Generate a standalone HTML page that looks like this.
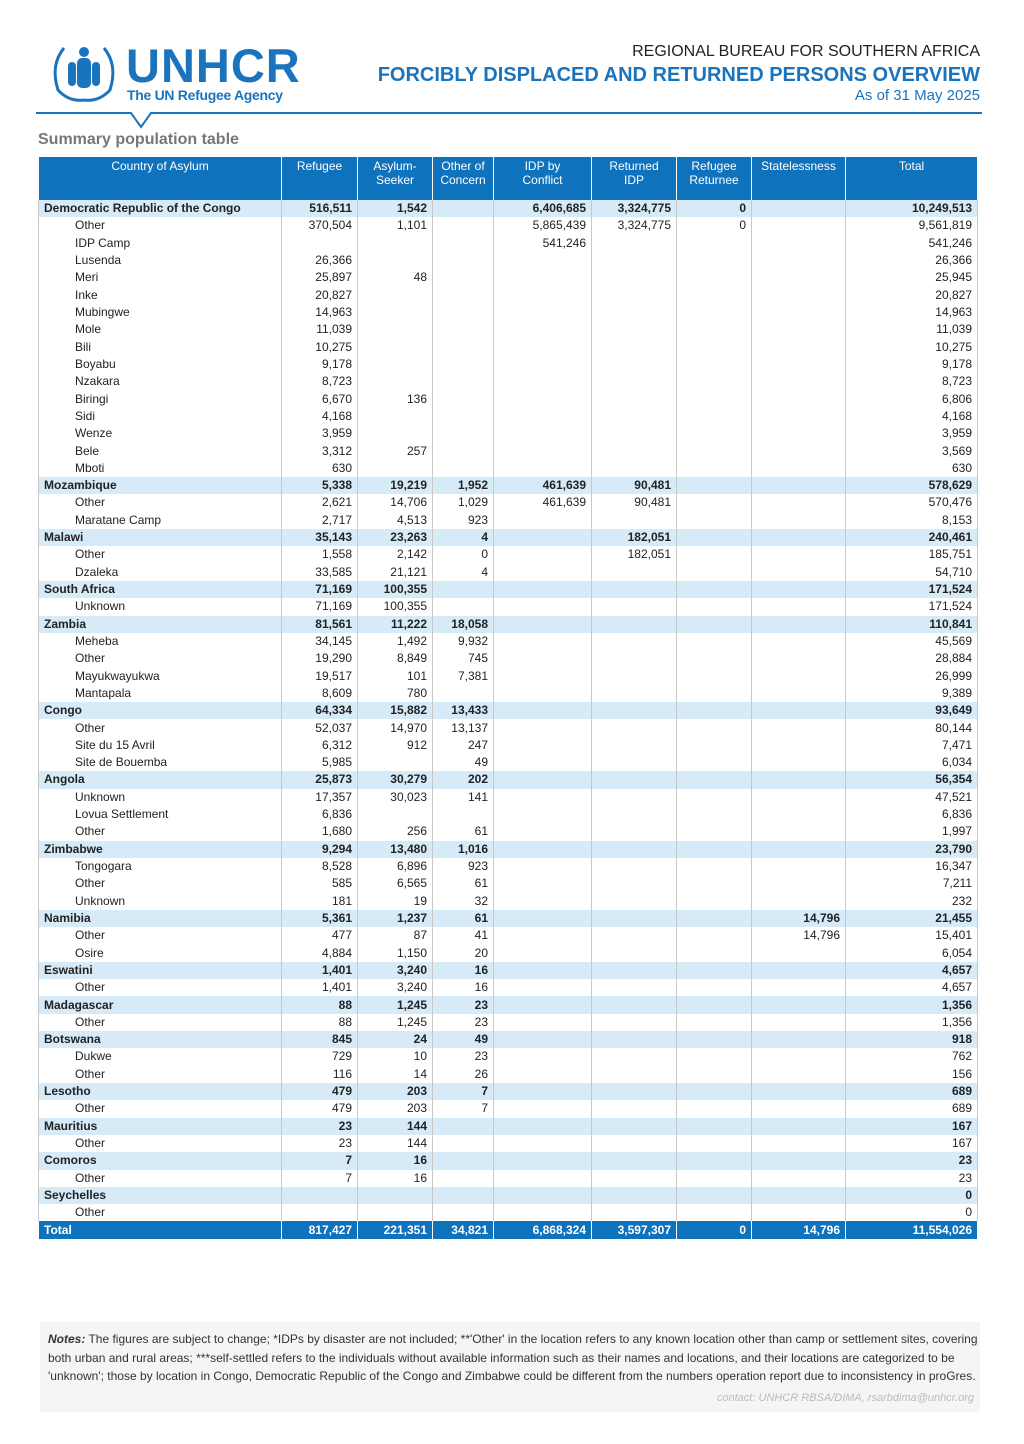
<!DOCTYPE html>
<html><head><meta charset="utf-8"><style>
body{margin:0;background:#fff;width:1024px;height:1444px;position:relative;font-family:"Liberation Sans Narrow","Liberation Sans",sans-serif;overflow:hidden}
.abs{position:absolute}
table{position:absolute;left:38px;top:157px;border-collapse:collapse;table-layout:fixed;width:939px;font-size:12px;color:#222}
td,th{padding:0 5px;white-space:nowrap;overflow:hidden;border-left:1px solid #c8c8c8;border-right:1px solid #c8c8c8}
th{background:#0f72bd;color:#fff;font-weight:normal;vertical-align:top;height:41px;font-size:12px;line-height:14px;padding-top:2px;border-color:#fff}
tr.r td{height:17.32px;line-height:17px;padding-top:0;padding-bottom:0}
td{text-align:right}
td:first-child{text-align:left;padding-left:5px}
tr.c td{background:#d6eaf8;font-weight:bold}
tr.s td:first-child{padding-left:36px}
tr.t td{background:#0f72bd;color:#fff;font-weight:bold;border-color:#fff}
</style></head><body>
<svg class="abs" style="left:44px;top:40px" width="80" height="65" viewBox="0 0 80 65">
<g fill="none" stroke="#1a74bd" stroke-width="3">
<path d="M20 8 Q6 25 14 50 Q25 62 40 60"/><path d="M60 8 Q74 25 66 50 Q55 62 40 60"/>
</g>
<g fill="#1a74bd"><ellipse cx="40" cy="12" rx="5" ry="5"/><rect x="33" y="18" width="14" height="30" rx="5"/><rect x="24" y="22" width="8" height="24" rx="4"/><rect x="48" y="22" width="8" height="24" rx="4"/></g>
</svg>
<div class="abs" style="left:126px;top:41px;font:bold 47px 'Liberation Sans',sans-serif;color:#1a74bd;letter-spacing:1px;line-height:50px">UNHCR</div>
<div class="abs" style="left:127px;top:87px;font:bold 14px 'Liberation Sans',sans-serif;color:#1a74bd;letter-spacing:-0.3px">The UN Refugee Agency</div>
<div class="abs" style="right:44px;top:43px;font-size:16px;color:#222;text-align:right">REGIONAL BUREAU FOR SOUTHERN AFRICA</div>
<div class="abs" style="right:44px;top:64px;font:bold 20px 'Liberation Sans',sans-serif;color:#1a74bd;text-align:right">FORCIBLY DISPLACED AND RETURNED PERSONS OVERVIEW</div>
<div class="abs" style="right:44px;top:87px;font-size:15px;color:#1a74bd;text-align:right">As of 31 May 2025</div>
<svg class="abs" style="left:36px;top:110px" width="946" height="22"><path d="M0 3 H95 L105 17 L115 3 H946" fill="none" stroke="#1a74bd" stroke-width="2"/></svg>
<div class="abs" style="left:38px;top:131px;font:bold 16px 'Liberation Sans',sans-serif;color:#777">Summary population table</div>
<table>
<colgroup><col style="width:243px"><col style="width:76px"><col style="width:75px"><col style="width:61px"><col style="width:98px"><col style="width:85px"><col style="width:75px"><col style="width:94px"><col style="width:132px"></colgroup>
<tr><th>Country of Asylum</th><th>Refugee</th><th>Asylum-<br>Seeker</th><th>Other of<br>Concern</th><th>IDP by<br>Conflict</th><th>Returned<br>IDP</th><th>Refugee<br>Returnee</th><th>Statelessness</th><th>Total</th></tr>
<tr class="r c"><td>Democratic Republic of the Congo</td><td>516,511</td><td>1,542</td><td></td><td>6,406,685</td><td>3,324,775</td><td>0</td><td></td><td>10,249,513</td></tr>
<tr class="r s"><td>Other</td><td>370,504</td><td>1,101</td><td></td><td>5,865,439</td><td>3,324,775</td><td>0</td><td></td><td>9,561,819</td></tr>
<tr class="r s"><td>IDP Camp</td><td></td><td></td><td></td><td>541,246</td><td></td><td></td><td></td><td>541,246</td></tr>
<tr class="r s"><td>Lusenda</td><td>26,366</td><td></td><td></td><td></td><td></td><td></td><td></td><td>26,366</td></tr>
<tr class="r s"><td>Meri</td><td>25,897</td><td>48</td><td></td><td></td><td></td><td></td><td></td><td>25,945</td></tr>
<tr class="r s"><td>Inke</td><td>20,827</td><td></td><td></td><td></td><td></td><td></td><td></td><td>20,827</td></tr>
<tr class="r s"><td>Mubingwe</td><td>14,963</td><td></td><td></td><td></td><td></td><td></td><td></td><td>14,963</td></tr>
<tr class="r s"><td>Mole</td><td>11,039</td><td></td><td></td><td></td><td></td><td></td><td></td><td>11,039</td></tr>
<tr class="r s"><td>Bili</td><td>10,275</td><td></td><td></td><td></td><td></td><td></td><td></td><td>10,275</td></tr>
<tr class="r s"><td>Boyabu</td><td>9,178</td><td></td><td></td><td></td><td></td><td></td><td></td><td>9,178</td></tr>
<tr class="r s"><td>Nzakara</td><td>8,723</td><td></td><td></td><td></td><td></td><td></td><td></td><td>8,723</td></tr>
<tr class="r s"><td>Biringi</td><td>6,670</td><td>136</td><td></td><td></td><td></td><td></td><td></td><td>6,806</td></tr>
<tr class="r s"><td>Sidi</td><td>4,168</td><td></td><td></td><td></td><td></td><td></td><td></td><td>4,168</td></tr>
<tr class="r s"><td>Wenze</td><td>3,959</td><td></td><td></td><td></td><td></td><td></td><td></td><td>3,959</td></tr>
<tr class="r s"><td>Bele</td><td>3,312</td><td>257</td><td></td><td></td><td></td><td></td><td></td><td>3,569</td></tr>
<tr class="r s"><td>Mboti</td><td>630</td><td></td><td></td><td></td><td></td><td></td><td></td><td>630</td></tr>
<tr class="r c"><td>Mozambique</td><td>5,338</td><td>19,219</td><td>1,952</td><td>461,639</td><td>90,481</td><td></td><td></td><td>578,629</td></tr>
<tr class="r s"><td>Other</td><td>2,621</td><td>14,706</td><td>1,029</td><td>461,639</td><td>90,481</td><td></td><td></td><td>570,476</td></tr>
<tr class="r s"><td>Maratane Camp</td><td>2,717</td><td>4,513</td><td>923</td><td></td><td></td><td></td><td></td><td>8,153</td></tr>
<tr class="r c"><td>Malawi</td><td>35,143</td><td>23,263</td><td>4</td><td></td><td>182,051</td><td></td><td></td><td>240,461</td></tr>
<tr class="r s"><td>Other</td><td>1,558</td><td>2,142</td><td>0</td><td></td><td>182,051</td><td></td><td></td><td>185,751</td></tr>
<tr class="r s"><td>Dzaleka</td><td>33,585</td><td>21,121</td><td>4</td><td></td><td></td><td></td><td></td><td>54,710</td></tr>
<tr class="r c"><td>South Africa</td><td>71,169</td><td>100,355</td><td></td><td></td><td></td><td></td><td></td><td>171,524</td></tr>
<tr class="r s"><td>Unknown</td><td>71,169</td><td>100,355</td><td></td><td></td><td></td><td></td><td></td><td>171,524</td></tr>
<tr class="r c"><td>Zambia</td><td>81,561</td><td>11,222</td><td>18,058</td><td></td><td></td><td></td><td></td><td>110,841</td></tr>
<tr class="r s"><td>Meheba</td><td>34,145</td><td>1,492</td><td>9,932</td><td></td><td></td><td></td><td></td><td>45,569</td></tr>
<tr class="r s"><td>Other</td><td>19,290</td><td>8,849</td><td>745</td><td></td><td></td><td></td><td></td><td>28,884</td></tr>
<tr class="r s"><td>Mayukwayukwa</td><td>19,517</td><td>101</td><td>7,381</td><td></td><td></td><td></td><td></td><td>26,999</td></tr>
<tr class="r s"><td>Mantapala</td><td>8,609</td><td>780</td><td></td><td></td><td></td><td></td><td></td><td>9,389</td></tr>
<tr class="r c"><td>Congo</td><td>64,334</td><td>15,882</td><td>13,433</td><td></td><td></td><td></td><td></td><td>93,649</td></tr>
<tr class="r s"><td>Other</td><td>52,037</td><td>14,970</td><td>13,137</td><td></td><td></td><td></td><td></td><td>80,144</td></tr>
<tr class="r s"><td>Site du 15 Avril</td><td>6,312</td><td>912</td><td>247</td><td></td><td></td><td></td><td></td><td>7,471</td></tr>
<tr class="r s"><td>Site de Bouemba</td><td>5,985</td><td></td><td>49</td><td></td><td></td><td></td><td></td><td>6,034</td></tr>
<tr class="r c"><td>Angola</td><td>25,873</td><td>30,279</td><td>202</td><td></td><td></td><td></td><td></td><td>56,354</td></tr>
<tr class="r s"><td>Unknown</td><td>17,357</td><td>30,023</td><td>141</td><td></td><td></td><td></td><td></td><td>47,521</td></tr>
<tr class="r s"><td>Lovua Settlement</td><td>6,836</td><td></td><td></td><td></td><td></td><td></td><td></td><td>6,836</td></tr>
<tr class="r s"><td>Other</td><td>1,680</td><td>256</td><td>61</td><td></td><td></td><td></td><td></td><td>1,997</td></tr>
<tr class="r c"><td>Zimbabwe</td><td>9,294</td><td>13,480</td><td>1,016</td><td></td><td></td><td></td><td></td><td>23,790</td></tr>
<tr class="r s"><td>Tongogara</td><td>8,528</td><td>6,896</td><td>923</td><td></td><td></td><td></td><td></td><td>16,347</td></tr>
<tr class="r s"><td>Other</td><td>585</td><td>6,565</td><td>61</td><td></td><td></td><td></td><td></td><td>7,211</td></tr>
<tr class="r s"><td>Unknown</td><td>181</td><td>19</td><td>32</td><td></td><td></td><td></td><td></td><td>232</td></tr>
<tr class="r c"><td>Namibia</td><td>5,361</td><td>1,237</td><td>61</td><td></td><td></td><td></td><td>14,796</td><td>21,455</td></tr>
<tr class="r s"><td>Other</td><td>477</td><td>87</td><td>41</td><td></td><td></td><td></td><td>14,796</td><td>15,401</td></tr>
<tr class="r s"><td>Osire</td><td>4,884</td><td>1,150</td><td>20</td><td></td><td></td><td></td><td></td><td>6,054</td></tr>
<tr class="r c"><td>Eswatini</td><td>1,401</td><td>3,240</td><td>16</td><td></td><td></td><td></td><td></td><td>4,657</td></tr>
<tr class="r s"><td>Other</td><td>1,401</td><td>3,240</td><td>16</td><td></td><td></td><td></td><td></td><td>4,657</td></tr>
<tr class="r c"><td>Madagascar</td><td>88</td><td>1,245</td><td>23</td><td></td><td></td><td></td><td></td><td>1,356</td></tr>
<tr class="r s"><td>Other</td><td>88</td><td>1,245</td><td>23</td><td></td><td></td><td></td><td></td><td>1,356</td></tr>
<tr class="r c"><td>Botswana</td><td>845</td><td>24</td><td>49</td><td></td><td></td><td></td><td></td><td>918</td></tr>
<tr class="r s"><td>Dukwe</td><td>729</td><td>10</td><td>23</td><td></td><td></td><td></td><td></td><td>762</td></tr>
<tr class="r s"><td>Other</td><td>116</td><td>14</td><td>26</td><td></td><td></td><td></td><td></td><td>156</td></tr>
<tr class="r c"><td>Lesotho</td><td>479</td><td>203</td><td>7</td><td></td><td></td><td></td><td></td><td>689</td></tr>
<tr class="r s"><td>Other</td><td>479</td><td>203</td><td>7</td><td></td><td></td><td></td><td></td><td>689</td></tr>
<tr class="r c"><td>Mauritius</td><td>23</td><td>144</td><td></td><td></td><td></td><td></td><td></td><td>167</td></tr>
<tr class="r s"><td>Other</td><td>23</td><td>144</td><td></td><td></td><td></td><td></td><td></td><td>167</td></tr>
<tr class="r c"><td>Comoros</td><td>7</td><td>16</td><td></td><td></td><td></td><td></td><td></td><td>23</td></tr>
<tr class="r s"><td>Other</td><td>7</td><td>16</td><td></td><td></td><td></td><td></td><td></td><td>23</td></tr>
<tr class="r c"><td>Seychelles</td><td></td><td></td><td></td><td></td><td></td><td></td><td></td><td>0</td></tr>
<tr class="r s"><td>Other</td><td></td><td></td><td></td><td></td><td></td><td></td><td></td><td>0</td></tr>
<tr class="r t"><td>Total</td><td>817,427</td><td>221,351</td><td>34,821</td><td>6,868,324</td><td>3,597,307</td><td>0</td><td>14,796</td><td>11,554,026</td></tr>
</table>
<div class="abs" style="left:40px;top:1322px;width:932px;height:82px;background:#f5f5f5;padding:8px 0 0 8px;font-size:12px;line-height:18.5px;color:#333">
<b><i>Notes:</i></b> The figures are subject to change; *IDPs by disaster are not included; **'Other' in the location refers to any known location other than camp or settlement sites, covering both urban and rural areas; ***self-settled refers to the individuals without available information such as their names and locations, and their locations are categorized to be 'unknown'; those by location in Congo, Democratic Republic of the Congo and Zimbabwe could be different from the numbers operation report due to inconsistency in proGres.
</div>
<div class="abs" style="right:50px;top:1392px;font-size:11px;font-style:italic;color:#bbb">contact: UNHCR RBSA/DIMA, rsarbdima@unhcr.org</div>
</body></html>
